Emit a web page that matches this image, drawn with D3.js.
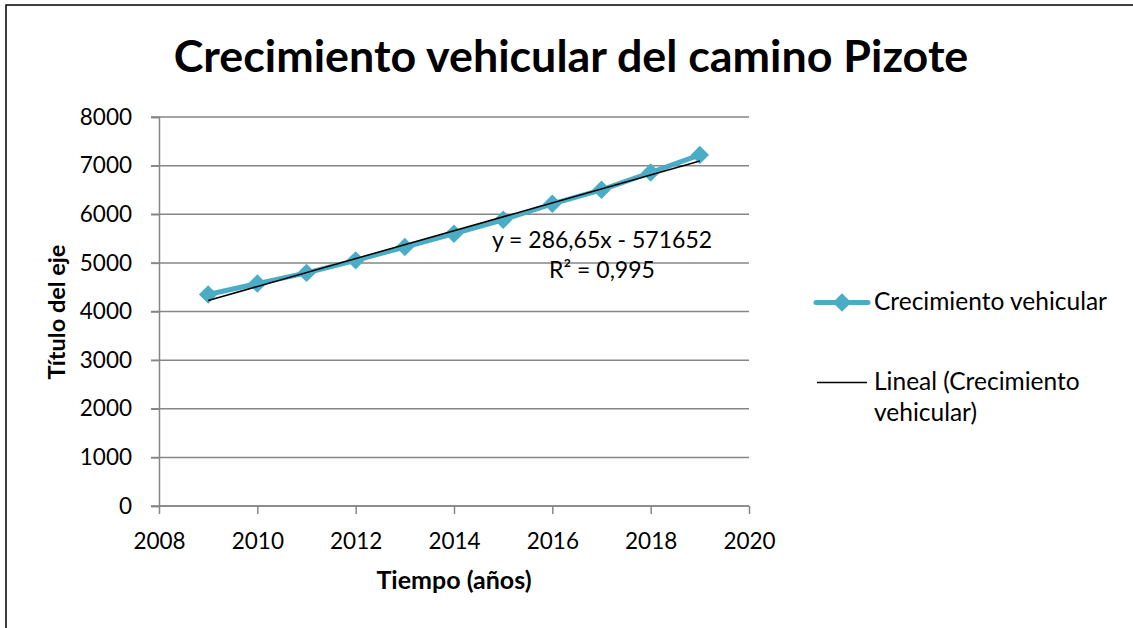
<!DOCTYPE html>
<html>
<head>
<meta charset="utf-8">
<script src="https://cdn.jsdelivr.net/npm/d3@7"></script>
<style>
  body { margin: 0; background: #fff; }
  text { font-family: Lato, "Open Sans", sans-serif; fill: #000; }
</style>
</head>
<body>
<script>
// data
var years = [2009, 2010, 2011, 2012, 2013, 2014, 2015, 2016, 2017, 2018, 2019];
var vehicles = [4349, 4574, 4794, 5052, 5327, 5600, 5887, 6215, 6503, 6858, 7221];
var xTicks = [2008, 2010, 2012, 2014, 2016, 2018, 2020];
var yTicks = [0, 1000, 2000, 3000, 4000, 5000, 6000, 7000, 8000];
// trendline as printed on the chart
var trendSlope = 286.65;
var trendIntercept = -571652;
var trendLabels = ['y = 286,65x - 571652', 'R² = 0,995'];

var w = 1133;
var h = 628;
var blue = '#4BACC6';
var grid = '#868686';

var svg = d3.select('body')
    .append('svg')
    .attr('width', w)
    .attr('height', h);

svg.append('rect')
    .attr('width', w)
    .attr('height', h)
    .attr('fill', '#fff');

// chart frame (only top and left visible)
svg.append('path')
    .attr('d', 'M6,' + h + 'V5H' + w)
    .attr('fill', 'none')
    .attr('stroke', '#000')
    .attr('stroke-width', 1.5);

var x = d3.scaleLinear().domain([2008, 2020]).range([159, 749]);
var y = d3.scaleLinear().domain([0, 8000]).range([506, 117]);

// gridlines
svg.selectAll('.grid')
    .data(yTicks)
    .enter()
    .append('line')
    .attr('x1', 151)
    .attr('x2', 749)
    .attr('y1', function(d){ return y(d); })
    .attr('y2', function(d){ return y(d); })
    .attr('stroke', grid)
    .attr('stroke-width', 1.5);

// axes
var yAxis = svg.append('g')
    .attr('transform', 'translate(159,0)')
    .call(d3.axisLeft(y).tickValues(yTicks).tickSize(8).tickPadding(19).tickFormat(d3.format('d')));
var xAxis = svg.append('g')
    .attr('transform', 'translate(0,506)')
    .call(d3.axisBottom(x).tickValues(xTicks).tickSize(8).tickFormat(d3.format('d')));

[yAxis, xAxis].forEach(function(g){
    g.select('.domain').attr('stroke', grid).attr('stroke-width', 1.5);
    g.selectAll('.tick line').attr('stroke', grid).attr('stroke-width', 1.5);
    g.selectAll('.tick text')
        .attr('font-family', 'Lato, sans-serif')
        .attr('font-size', '22.5px')
        .attr('fill', '#000');
});
xAxis.select('.domain').attr('d', 'M159,0H749');
xAxis.selectAll('.tick text').attr('y', 43).attr('dy', null);

// series line
var line = d3.line()
    .x(function(d, i){ return x(years[i]); })
    .y(function(d){ return y(d); });

svg.append('path')
    .datum(vehicles)
    .attr('d', line)
    .attr('fill', 'none')
    .attr('stroke', blue)
    .attr('stroke-width', 5)
    .attr('stroke-linejoin', 'round');

// diamond markers
var diamond = d3.symbol().type(d3.symbolSquare).size(170);
svg.selectAll('.marker')
    .data(vehicles)
    .enter()
    .append('path')
    .attr('d', diamond)
    .attr('transform', function(d, i){
        return 'translate(' + x(years[i]) + ',' + y(d) + ') rotate(45)';
    })
    .attr('fill', blue);

// linear trend
var tx = d3.extent(years);
svg.append('line')
    .attr('x1', x(tx[0]))
    .attr('y1', y(trendSlope * tx[0] + trendIntercept))
    .attr('x2', x(tx[1]))
    .attr('y2', y(trendSlope * tx[1] + trendIntercept))
    .attr('stroke', '#000')
    .attr('stroke-width', 1.5);

svg.selectAll('.eq')
    .data(trendLabels)
    .enter()
    .append('text')
    .text(function(d){ return d; })
    .attr('x', 602)
    .attr('y', function(d, i){ return 248 + i * 29.5; })
    .attr('text-anchor', 'middle')
    .attr('font-size', '23px');

// title
svg.append('text')
    .text('Crecimiento vehicular del camino Pizote')
    .attr('x', 571)
    .attr('y', 72)
    .attr('text-anchor', 'middle')
    .attr('font-size', '44.8px')
    .attr('font-weight', 'bold');

// axis titles
svg.append('text')
    .text('Tiempo (años)')
    .attr('x', 454)
    .attr('y', 589)
    .attr('text-anchor', 'middle')
    .attr('font-size', '25px')
    .attr('font-weight', 'bold');

svg.append('text')
    .text('Título del eje')
    .attr('transform', 'translate(65,312) rotate(-90)')
    .attr('text-anchor', 'middle')
    .attr('font-size', '23.5px')
    .attr('font-weight', 'bold');

// legend
var lg = svg.append('g');
lg.append('line')
    .attr('x1', 816).attr('x2', 868)
    .attr('y1', 302.5).attr('y2', 302.5)
    .attr('stroke', blue)
    .attr('stroke-width', 5)
    .attr('stroke-linecap', 'round');
lg.append('path')
    .attr('d', diamond)
    .attr('transform', 'translate(842,302.5) rotate(45)')
    .attr('fill', blue);
lg.append('text')
    .text('Crecimiento vehicular')
    .attr('x', 874).attr('y', 310)
    .attr('font-size', '24.5px');

lg.append('line')
    .attr('x1', 817).attr('x2', 867)
    .attr('y1', 382.5).attr('y2', 382.5)
    .attr('stroke', '#000')
    .attr('stroke-width', 1.5);
lg.append('text')
    .text('Lineal (Crecimiento')
    .attr('x', 874).attr('y', 390)
    .attr('font-size', '24.5px');
lg.append('text')
    .text('vehicular)')
    .attr('x', 874).attr('y', 421)
    .attr('font-size', '24.5px');
</script>
</body>
</html>
